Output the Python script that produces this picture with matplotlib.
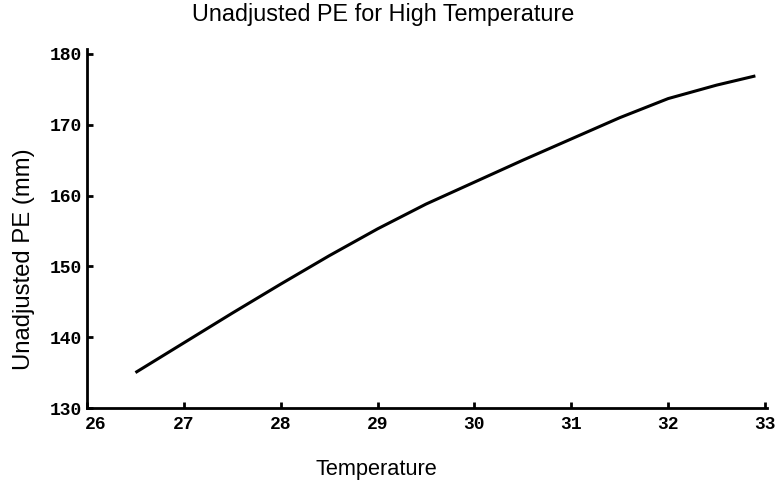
import matplotlib
matplotlib.use("Agg")
import matplotlib.pyplot as plt
from matplotlib.transforms import ScaledTranslation

# Data
temperature = [26.5, 27.0, 27.5, 28.0, 28.5, 29.0, 29.5, 30.0, 30.5, 31.0, 31.5, 32.0, 32.5, 32.9]
unadjusted_pe = [135.0, 139.2, 143.4, 147.5, 151.5, 155.3, 158.8, 161.9, 165.0, 168.0, 171.0, 173.7, 175.6, 176.9]
x_ticks = [26, 27, 28, 29, 30, 31, 32, 33]
y_ticks = [130, 140, 150, 160, 170, 180]

plt.rcParams['font.family'] = ['Liberation Sans', 'DejaVu Sans']

fig = plt.figure(figsize=(7.77, 4.84), dpi=100)
ax = fig.add_axes([87/777, 1 - 408/484, (767 - 87)/777, (408 - 49)/484])

ax.plot(temperature, unadjusted_pe, color='black', linewidth=2.2, solid_capstyle='butt')

ax.set_xlim(26, 33.02)
ax.set_ylim(130, 180.7)
ax.set_xticks(x_ticks)
ax.set_yticks(y_ticks)
ax.set_xticklabels([str(t) for t in x_ticks])
ax.set_yticklabels([str(t) for t in y_ticks])

for s in ['top', 'right']:
    ax.spines[s].set_visible(False)
for s in ['left', 'bottom']:
    ax.spines[s].set_linewidth(2.0)
    ax.spines[s].set_color('black')

ax.tick_params(direction='in', length=4, width=2, colors='black')
ax.tick_params(axis='x', pad=6)
ax.tick_params(axis='y', pad=3.5)
for lab in ax.get_xticklabels() + ax.get_yticklabels():
    lab.set_family(['Liberation Mono', 'DejaVu Sans Mono'])
    lab.set_fontsize(13)
    lab.set_fontweight('bold')
# first x label sits right of the axis corner in the reference
first = ax.get_xticklabels()[0]
first.set_transform(first.get_transform() + ScaledTranslation(9/100, 0, fig.dpi_scale_trans))

fig.text(383/777, 1 - 15/484, 'Unadjusted PE for High Temperature', ha='center', va='center', fontsize=16.8)
fig.text(376/777, 1 - 469/484, 'Temperature', ha='center', va='center', fontsize=15.7)
fig.text(24/777, 1 - 259/484, 'Unadjusted PE (mm)', ha='center', va='center', rotation=90, fontsize=17.2)

fig.savefig('out.png', dpi=100)
